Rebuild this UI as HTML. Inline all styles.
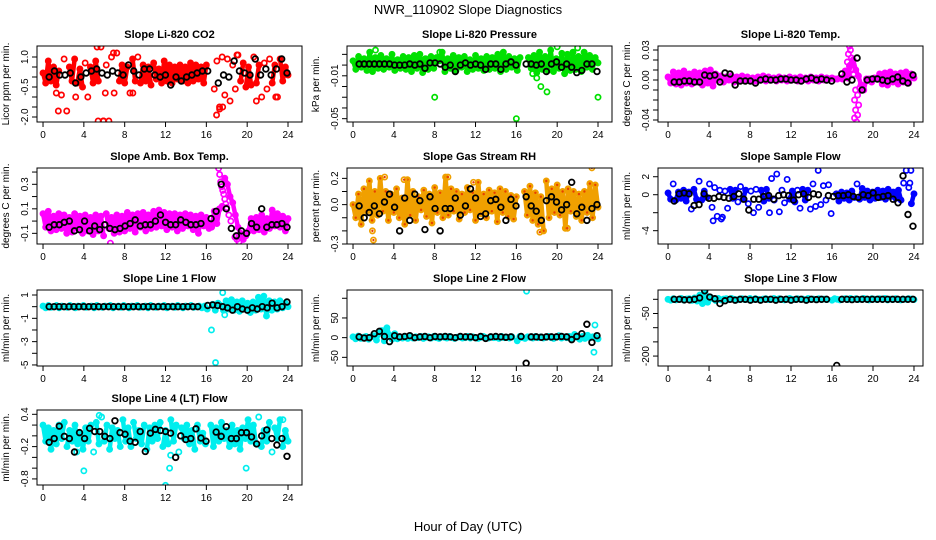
<!DOCTYPE html>
<html><head><meta charset="utf-8"><title>NWR_110902 Slope Diagnostics</title>
<style>
html,body{margin:0;padding:0;background:#fff;}
svg{display:block;font-family:"Liberation Sans",Arial,sans-serif;}
</style></head>
<body>
<svg id="chart" width="936" height="540" viewBox="0 0 936 540" xmlns="http://www.w3.org/2000/svg">
<rect x="0" y="0" width="936" height="540" fill="#fff"/>
<text x="468" y="14" font-size="13" text-anchor="middle">NWR_110902  Slope Diagnostics</text>
<text x="468" y="531" font-size="13" text-anchor="middle">Hour of Day (UTC)</text>
</svg>
<script>
// ---------- data ----------
const xTicks = [0,4,8,12,16,20,24];

const p1Colored = [0.2,-0.3,0.8,-0.2,0.5,-0.4,0.3,-0.9,0.9,-1.7,0.5,-0.2,0.9,-0.3,0.4,-0.5,0.7,-1.0,0.5,-0.3,0.8,-0.2,1.5,-2.2,0.6,-2.2,1.0,-0.8,1.2,-0.2,0.6,-0.3,0.5,-0.8,0.9,-0.2,1.0,-0.3,0.6,-0.2,0.5,-0.4,0.7,-0.1,0.4,-0.3,0.8,-0.2,0.6,-0.3,0.5,-0.1,0.6,-0.2,0.5,-0.3,0.7,-0.2,0.6,-0.1,0.5,-0.3,0.6,null,null,-0.6,0.8,-1.5,1.0,-0.9,0.9,-1.2,0.6,-0.6,1.1,-0.2,0.7,-0.5,0.5,-0.4,1.0,-0.3,0.6,-1.0,0.7,-0.6,0.9,-0.3,0.6,-1.0,0.9,-0.2,0.5,0.1];
const p1Extra = [[1.5,-1.7],[1.3,-0.8],[3.2,-1.0],[5.3,1.5],[5.4,-2.2],[5.9,-2.2],[6.1,-0.8],[6.9,1.2],[8.8,-0.8],[17.0,-1.9],[17.3,-1.6],[17.6,-1.5],[20.9,-1.2],[22.8,-1.0],[19.0,1.1]];
const p1Black = [0.0,0.3,0.1,0.1,0.2,-0.3,0.0,0.2,0.3,0.4,0.2,0.1,0.3,0.2,0.1,0.6,0.3,0.1,0.4,0.4,0.1,0.0,0.1,-0.4,0.0,-0.2,0.0,0.1,0.2,0.3,0.3,null,-0.3,0.1,0.0,0.8,0.3,0.2,0.1,0.9,0.1,0.4,0.1,0.4,0.9,0.2];

const p2Colored = [0.004,-0.004,0.008,-0.002,0.006,-0.005,0.012,-0.006,0.007,-0.003,0.009,-0.004,0.006,-0.002,0.01,-0.005,0.005,-0.003,0.008,-0.004,0.007,-0.006,0.009,-0.003,0.01,-0.007,0.006,-0.004,0.008,-0.003,0.007,0.004,0.012,-0.006,0.006,-0.003,0.009,-0.005,0.007,-0.002,0.008,-0.006,0.005,-0.004,0.009,-0.003,0.006,-0.005,0.008,-0.004,0.007,-0.003,0.01,-0.006,0.012,-0.004,0.008,-0.002,0.006,-0.005,0.007,null,null,0.007,-0.003,0.009,-0.007,0.012,-0.004,0.008,-0.005,0.014,-0.006,0.006,-0.003,0.011,-0.008,0.01,-0.005,0.012,-0.004,0.008,-0.006,0.012,-0.002,0.009,-0.004,0.007,0.002];
const p2Extra = [[8.0,-0.03],[16.0,-0.05],[24.0,-0.03],[18.4,-0.02],[19.0,-0.025],[18.0,-0.012],[17.6,-0.008],[20.0,0.017],[22.0,0.016],[2.2,0.014],[8.5,0.012]];
const p2Black = [0.001,0.001,0.001,0.001,0.001,0.001,0.001,0.0,0.0,0.0,0.001,0.0,0.001,-0.003,0.002,0.002,0.001,-0.002,0.0,-0.006,0.0,0.002,0.0,0.001,0.0,-0.004,0.001,0.001,-0.004,0.001,0.003,0.0,null,0.001,0.001,0.0,0.001,-0.006,0.001,0.003,-0.002,0.001,-0.002,-0.007,-0.005,0.001,0.001,-0.006];

const p3Colored = [0.003,-0.003,0.008,-0.004,0.007,-0.005,0.009,-0.003,0.006,-0.004,0.008,-0.002,0.007,-0.005,0.009,-0.003,0.01,-0.006,0.006,0.0,0.004,-0.002,0.003,0.0,0.004,-0.002,0.003,0.0,0.004,-0.001,0.003,0.0,0.002,-0.001,0.003,0.0,0.004,-0.001,0.003,0.0,0.002,-0.001,0.003,0.0,0.002,-0.001,0.003,0.0,0.002,-0.001,0.003,0.0,0.002,-0.001,0.003,0.0,0.002,-0.001,0.003,0.0,0.002,0.001,0.002,0.001,0.001,0.002,0.001,0.009,0.002,0.015,0.02,0.01,0.004,-0.005,-0.01,0.001,0.001,-0.002,0.002,0.001,0.006,-0.004,0.007,-0.005,0.008,-0.002,0.006,-0.004,0.007,-0.002,0.008,-0.003,0.006,0.002];
const p3Extra = [[17.7,0.034],[17.8,0.03],[17.6,0.026],[17.9,0.022],[17.5,0.018],[17.7,0.014],[17.9,0.01],[18.1,0.006],[18.3,-0.01],[18.5,-0.015],[18.2,-0.02],[18.6,-0.025],[18.3,-0.03],[18.5,-0.035],[18.2,-0.038],[18.4,-0.042],[18.7,-0.008]];
const p3Black = [-0.002,-0.002,-0.001,-0.001,-0.002,-0.002,0.005,0.004,0.005,-0.002,0.007,0.006,-0.005,-0.001,-0.001,-0.001,-0.003,0.0,0.001,0.0,0.0,0.001,0.001,0.0,0.0,-0.001,0.001,0.002,0.0,0.001,0.0,-0.001,null,0.006,-0.002,0.0,0.022,-0.01,0.0,0.001,0.001,0.0,-0.001,0.001,0.003,-0.001,-0.003,0.005];

const p4Colored = [0.06,-0.05,0.08,-0.08,0.04,-0.07,0.06,-0.06,0.05,-0.1,0.03,-0.09,0.06,-0.06,0.04,-0.1,0.05,-0.08,0.03,-0.11,0.05,-0.08,0.04,-0.12,0.06,-0.06,0.03,-0.1,0.05,-0.09,0.04,-0.08,0.07,-0.06,0.05,-0.09,0.06,-0.05,0.07,-0.08,0.05,-0.06,0.08,-0.05,0.09,-0.04,0.07,-0.07,0.06,-0.05,0.06,-0.08,0.05,-0.06,0.06,-0.04,0.05,-0.07,0.04,-0.1,0.05,-0.04,0.03,-0.06,-0.05,0.08,-0.02,0.1,0.12,0.35,0.3,0.2,0.15,0.05,-0.05,-0.1,-0.15,-0.12,-0.08,0.02,-0.08,0.03,-0.07,0.05,-0.09,0.02,-0.06,0.09,-0.04,0.06,-0.05,0.04,-0.08,0.02];
const p4Extra = [[17.2,0.43],[17.3,0.38],[17.4,0.32],[17.5,0.28],[17.6,0.25],[17.7,0.22],[17.8,0.18],[17.9,0.14],[18.0,0.11],[18.2,0.05],[18.4,0.0],[19.0,-0.15],[19.2,-0.17],[18.8,-0.13],[6.6,-0.18]];
const p4Black = [-0.05,-0.03,-0.03,-0.01,0.0,-0.08,-0.07,0.0,-0.08,-0.04,-0.07,-0.03,-0.06,-0.07,-0.06,-0.04,-0.02,0.01,-0.04,-0.03,-0.03,0.0,0.05,-0.01,-0.03,-0.03,0.01,-0.01,-0.03,-0.03,-0.02,null,0.02,0.08,0.3,0.1,-0.06,-0.12,-0.08,-0.1,-0.02,-0.05,0.1,-0.05,-0.03,-0.03,-0.02,-0.05];

const p5Colored = [0.0,-0.1,0.08,-0.15,0.12,-0.05,0.18,-0.12,0.1,-0.08,0.2,-0.05,0.1,-0.12,0.08,-0.06,0.12,-0.1,0.05,-0.15,0.19,-0.08,0.1,-0.12,0.06,-0.04,0.11,-0.09,0.08,-0.14,0.13,-0.06,0.09,-0.1,0.21,-0.08,0.12,-0.05,0.1,-0.11,0.08,-0.06,0.13,-0.04,0.09,-0.12,0.17,-0.07,0.08,-0.1,0.11,-0.05,0.09,-0.13,0.12,-0.06,0.1,-0.09,0.07,-0.11,0.06,null,null,0.1,-0.08,0.14,-0.12,0.09,-0.15,0.06,-0.2,0.18,-0.1,0.12,-0.06,0.15,-0.08,0.1,-0.18,0.12,-0.05,0.1,-0.09,0.08,-0.12,0.1,-0.06,0.16,-0.1,0.15,-0.02];
const p5Extra = [[2.0,-0.27],[1.9,-0.2],[3.1,0.21],[5.0,0.19],[9.3,0.21],[11.8,0.17],[18.3,-0.21],[23.4,0.28],[21.0,-0.18]];
const p5Black = [-0.01,-0.1,-0.06,-0.01,-0.07,0.02,0.08,-0.02,-0.2,0.05,-0.12,0.08,0.03,-0.19,0.06,-0.03,-0.2,-0.03,-0.03,0.05,-0.08,-0.01,0.12,0.05,-0.09,-0.07,0.03,0.04,-0.02,-0.12,0.04,-0.01,null,0.06,-0.01,-0.05,-0.12,0.03,0.06,0.02,-0.04,0.0,0.17,-0.07,-0.02,-0.12,-0.03,0.0];

const p6Colored = [0.2,-0.5,1.2,-0.6,0.3,-0.4,0.5,-0.7,0.3,-1.6,0.6,-0.5,1.5,-0.6,0.4,-0.3,1.2,-1.4,0.8,-2.4,0.5,-2.5,0.4,-1.5,0.6,-0.4,0.5,-0.8,0.9,-0.5,0.5,-1.0,0.4,-2.0,0.6,-1.4,0.5,-0.7,0.6,-0.4,1.8,-0.6,2.3,-1.9,0.5,-0.9,1.7,-0.5,0.4,-0.8,0.5,-1.5,0.6,-0.6,0.5,-1.6,1.2,-1.3,2.7,-1.1,1.0,-0.6,1.1,-2.1,null,0.1,-0.7,0.3,-0.4,0.2,-0.6,0.4,-0.3,1.2,-0.5,0.7,-0.3,0.4,-0.6,0.3,-0.4,0.5,-0.3,0.4,-0.5,0.6,-0.2,0.3,-0.4,0.5,-0.6,1.3,2.7,0.8,-1.0,0.1];
const p6Extra = [[5.7,-5.9],[4.4,-2.9],[5.2,-2.7],[23.7,2.7],[23.6,1.3],[9.9,-2.0]];
const p6Black = [-0.7,0.1,0.2,0.1,-1.2,-1.1,0.1,-0.4,-0.4,-0.2,-0.3,-0.4,-0.2,0.1,-0.5,-1.7,-0.5,-0.5,-0.2,-0.1,-0.5,-0.1,0.0,-0.1,-0.6,0.0,0.1,-0.3,0.1,0.0,null,-0.1,-0.2,-0.1,-0.1,0.0,-0.2,-0.3,0.0,-0.1,0.2,-0.3,-0.2,-0.1,-0.5,-0.9,2.1,-2.2,-3.5];

const p7Colored = [0.05,-0.1,0.1,-0.05,0.0,0.1,-0.1,0.05,0.0,-0.05,0.1,0.0,-0.1,0.05,0.0,0.1,-0.05,0.0,0.05,-0.1,0.1,0.0,-0.05,0.05,0.0,0.1,-0.1,0.0,0.05,-0.05,0.1,0.0,-0.1,0.05,0.0,0.1,-0.05,0.0,0.05,-0.1,0.1,0.0,-0.05,0.05,0.0,0.1,-0.1,0.0,0.05,-0.05,0.1,0.0,-0.1,0.05,0.0,0.1,-0.05,0.0,0.05,-0.1,0.05,-0.2,null,0.2,-0.3,0.3,0.1,-0.3,0.5,-0.2,0.6,-0.3,0.4,-0.4,0.5,-0.2,0.3,-0.5,0.4,-0.3,0.8,-0.2,0.9,-0.8,0.5,-0.3,0.4,-0.2,0.5,-0.1,0.3,0.0];
const p7Extra = [[16.5,-2.0],[16.9,-4.8],[17.6,1.2],[17.8,-0.7]];
const p7Black = [0,0,0,0,0,0,0,0,0,0,0,0,0,0,0,0,0,0,0,0,0,0,0,0,0,0,0,0,0,0,0,null,0.1,0.15,0.1,0.0,-0.1,-0.3,0.0,-0.2,-0.3,-0.1,-0.2,0.0,-0.1,0.3,-0.1,0.0,0.4];

const p8Colored = [2,-3,4,-2,1,3,-4,2,5,-6,12,18,-8,25,6,-4,10,-3,2,-1,3,-2,4,-1,2,0,3,-2,1,2,-1,3,0,-2,2,1,-1,3,0,-2,1,2,-1,0,3,-1,2,0,-2,1,3,0,-1,2,0,1,-2,3,0,1,-1,2,null,-8,3,0,-2,2,1,-1,3,0,2,-1,1,3,0,-2,2,5,-1,2,0,3,-2,8,1,-4,3,-2,6,0,2,1,-3];
const p8Extra = [[17.0,118],[23.6,-37],[23.7,32],[23.9,5]];
const p8Black = [2,-1,0,10,16,3,-10,5,2,3,5,0,2,3,0,3,2,3,2,0,3,2,2,0,3,-2,2,3,2,1,2,null,3,-65,2,2,1,2,2,2,3,2,-5,3,10,34,-12,5];

const p9Colored = [0,-3,2,-2,0,3,-3,1,2,-4,5,-6,15,-15,20,-10,8,2,-4,3,-2,1,2,-1,3,0,-2,1,2,-1,0,3,-1,2,0,-2,1,2,-1,0,3,-1,2,0,-2,1,3,0,-1,2,0,1,-2,3,0,1,-1,2,0,1,-1,null,-3,2,0,-2,1,2,-1,3,0,2,-1,1,3,0,-2,2,1,-1,2,0,3,-2,1,-1,2,0,-2,1,0,2,1,-1];
const p9Extra = [];
const p9Black = [0,0,-2,-2,0,5,30,8,2,-15,-5,0,-3,0,0,-3,0,-3,0,0,-3,0,0,-3,0,0,-3,0,-1,0,0,null,-233,0,0,-1,0,0,0,0,0,0,0,0,0,0,0,0];

const p10Colored = [0.2,-0.1,0.15,-0.25,0.1,-0.15,0.2,-0.05,0.25,-0.2,0.1,-0.1,0.2,-0.15,0.05,-0.25,0.15,-0.1,0.2,-0.3,0.25,-0.15,0.35,-0.1,0.2,-0.25,0.15,-0.05,0.1,-0.2,0.3,-0.1,0.15,-0.2,0.25,-0.05,0.1,-0.15,0.2,-0.25,0.15,-0.1,0.2,-0.05,0.25,-0.2,0.1,-0.15,0.3,-0.1,0.2,-0.3,0.15,-0.05,0.2,-0.15,0.1,-0.25,0.2,-0.1,0.05,-0.15,null,0.2,-0.2,0.15,-0.1,0.25,-0.05,0.1,-0.2,0.2,-0.15,0.1,-0.25,0.15,-0.05,0.3,-0.1,0.2,-0.15,0.35,-0.2,0.1,-0.1,0.25,-0.3,0.15,-0.05,0.3,-0.2,0.1,-0.1];
const p10Extra = [[5.5,0.38],[4.0,-0.65],[12.4,-0.6],[12.0,-0.92],[19.9,-0.6],[3.3,-0.3],[12.5,-0.36],[23.5,0.3]];
const p10Black = [-0.12,-0.05,0.18,-0.01,-0.05,-0.3,0.06,-0.05,0.14,0.08,0.08,-0.01,-0.05,0.28,0.06,0.03,-0.1,-0.12,0.08,-0.29,0.05,0.12,0.1,0.08,0.05,-0.4,0.0,-0.07,-0.05,0.13,-0.04,-0.1,null,0.07,-0.01,0.17,-0.05,-0.05,0.06,0.06,-0.02,-0.15,0.0,0.11,-0.05,-0.17,-0.05,-0.38];

// ---------- panel layout (presentation only) ----------
const panels = [
 {key:'li820-co2',title:'Slope Li-820 CO2',ylab:'Licor ppm per min.',col:0,row:0,ylim:[-2.25,1.55],ticks:[1,0.5,0,-0.5,-1,-1.5,-2],labels:{'1':'1.0','-0.5':'-0.5','-2':'-2.0'},color:'#ff0000',jump:22,c:p1Colored,e:p1Extra,b:p1Black},
 {key:'li820-pressure',title:'Slope Li-820 Pressure',ylab:'kPa per min.',col:1,row:0,ylim:[-0.0531,0.0178],ticks:[0.01,0,-0.01,-0.02,-0.03,-0.04,-0.05],labels:{'-0.01':'-0.01','-0.05':'-0.05'},color:'#00e000',jump:22,c:p2Colored,e:p2Extra,b:p2Black},
 {key:'li820-temp',title:'Slope Li-820 Temp.',ylab:'degrees C per min.',col:2,row:0,ylim:[-0.042,0.034],ticks:[0.03,0.02,0.01,0,-0.01,-0.02,-0.03,-0.04],labels:{'0.03':'0.03','0':'0.00','-0.04':'-0.04'},color:'#ff00ff',jump:22,c:p3Colored,e:p3Extra,b:p3Black},
 {key:'amb-box-temp',title:'Slope Amb. Box Temp.',ylab:'degrees C per min.',col:0,row:1,ylim:[-0.187,0.433],ticks:[0.4,0.3,0.2,0.1,0,-0.1],labels:{'0.3':'0.3','0.1':'0.1','-0.1':'-0.1'},color:'#ff00ff',jump:22,c:p4Colored,e:p4Extra,b:p4Black},
 {key:'gas-stream-rh',title:'Slope Gas Stream RH',ylab:'percent per min.',col:1,row:1,ylim:[-0.3,0.279],ticks:[0.2,0.1,0,-0.1,-0.2,-0.3],labels:{'0.2':'0.2','0':'0.0','-0.3':'-0.3'},color:'#f0a000',inner:'#e84000',jump:45,c:p5Colored,e:p5Extra,b:p5Black},
 {key:'sample-flow',title:'Slope Sample Flow',ylab:'ml/min per min.',col:2,row:1,ylim:[-5.48,2.97],ticks:[2,0,-2,-4],labels:{'2':'2','0':'0','-4':'-4'},color:'#0000ff',jump:11,c:p6Colored,e:p6Extra,b:p6Black},
 {key:'line1-flow',title:'Slope Line 1 Flow',ylab:'ml/min per min.',col:0,row:2,ylim:[-5.09,1.43],ticks:[1,0,-1,-2,-3,-4,-5],labels:{'1':'1','-1':'-1','-3':'-3','-5':'-5'},color:'#00eeee',jump:22,c:p7Colored,e:p7Extra,b:p7Black},
 {key:'line2-flow',title:'Slope Line 2 Flow',ylab:'ml/min per min.',col:1,row:2,ylim:[-72,121],ticks:[100,50,0,-50],labels:{'50':'50','0':'0','-50':'-50'},color:'#00eeee',jump:22,c:p8Colored,e:p8Extra,b:p8Black},
 {key:'line3-flow',title:'Slope Line 3 Flow',ylab:'ml/min per min.',col:2,row:2,ylim:[-235,32.8],ticks:[0,-50,-100,-150,-200],labels:{'-50':'-50','-200':'-200'},color:'#00eeee',jump:22,c:p9Colored,e:p9Extra,b:p9Black},
 {key:'line4-flow',title:'Slope Line 4 (LT) Flow',ylab:'ml/min per min.',col:0,row:3,ylim:[-0.913,0.48],ticks:[0.4,0.2,0,-0.2,-0.4,-0.6,-0.8],labels:{'0.4':'0.4','-0.2':'-0.2','-0.8':'-0.8'},color:'#00eeee',jump:22,c:p10Colored,e:p10Extra,b:p10Black}
];
const colLeft=[37,347,658], colW=265, colXlim=[[-0.59,25.37],[-0.59,25.37],[-0.98,24.88]];
const rowTop=[46,168,290,410], rowH=[76,76,76,75];

const NS='http://www.w3.org/2000/svg';
const svg=document.getElementById('chart');
function mk(tag,attrs,parent){const el=document.createElementNS(NS,tag);for(const k in attrs)el.setAttribute(k,attrs[k]);(parent||svg).appendChild(el);return el;}

panels.forEach(p=>{
  const L=colLeft[p.col], T=rowTop[p.row], W=colW, H=rowH[p.row];
  const xl=colXlim[p.col];
  const xs=h=>L+(h-xl[0])/(xl[1]-xl[0])*W;
  const ys=v=>T+H-(v-p.ylim[0])/(p.ylim[1]-p.ylim[0])*H;
  const g=mk('g',{});
  
  
  const cp=mk('clipPath',{id:'clip-'+p.key},g);
  mk('rect',{x:L,y:T,width:W,height:H},cp);

  const t=mk('text',{x:L+W/2,y:T-8,'font-size':11,'font-weight':'bold','text-anchor':'middle'},g);
  t.textContent=p.title;
  
  

  const yl=mk('text',{x:0,y:0,'font-size':10,'text-anchor':'middle',transform:`translate(${L-28},${T+H/2}) rotate(-90)`},g);
  yl.textContent=p.ylab;
  
  

  const pts=mk('g',{'clip-path':`url(#clip-${p.key})`},g);
  
  
  const n=p.c.length;

  let seg=[];
  const flush=()=>{ if(seg.length>1){
      const pl=mk('polyline',{points:seg.map(q=>q.join(',')).join(' '),fill:'none',stroke:p.color,'stroke-width':4.5,'stroke-linejoin':'round','stroke-linecap':'round'},pts);
      
      
    } seg=[]; };
  p.c.forEach((v,i)=>{
    if(v===null){flush();return;}
    const q=[xs(i*24/(n-1)),ys(v)];
    if(seg.length && Math.abs(q[1]-seg[seg.length-1][1])>p.jump) flush();
    seg.push(q);
  });
  flush();

  const drawC=(h,v)=>{
    const c=mk('circle',{cx:xs(h),cy:ys(v),r:2.6,fill:'none',stroke:p.color,'stroke-width':1.7},pts);
    
    
    if(p.inner){const d=mk('circle',{cx:xs(h),cy:ys(v),r:1.2,fill:p.inner},pts);
      
      }
  };
  p.c.forEach((v,i)=>{if(v===null)return;drawC(i*24/(n-1),v);});
  p.e.forEach(a=>drawC(a[0],a[1]));
  const nb=p.b.length;
  p.b.forEach((v,i)=>{if(v===null)return;
    const c=mk('circle',{cx:xs(0.6+i*23.3/(nb-1)),cy:ys(v),r:2.8,fill:'none',stroke:'#000','stroke-width':1.8},pts);
    
    
  });

  const fr=mk('rect',{x:L,y:T,width:W,height:H,fill:'none',stroke:'#000','stroke-width':1},g);
  
  

  const xa=mk('g',{},g);
  
  
  mk('line',{x1:xs(xTicks[0]),x2:xs(xTicks[xTicks.length-1]),y1:T+H,y2:T+H,stroke:'#000'},xa);
  xTicks.forEach(h=>{
    mk('line',{x1:xs(h),x2:xs(h),y1:T+H,y2:T+H+5,stroke:'#000'},xa);
    const tl=mk('text',{x:xs(h),y:T+H+16,'font-size':10,'text-anchor':'middle'},xa);
    tl.textContent=String(h);
    
    
  });
  const ya=mk('g',{},g);
  
  
  p.ticks.forEach(v=>{
    mk('line',{x1:L-5,x2:L,y1:ys(v),y2:ys(v),stroke:'#000'},ya);
    const lab=p.labels[String(v)];
    if(lab!==undefined){
      const tl=mk('text',{x:0,y:0,'font-size':10,'text-anchor':'middle',transform:`translate(${L-9},${ys(v)}) rotate(-90)`},ya);
      tl.textContent=lab;
      
      
    }
  });
});
</script>
</body></html>
